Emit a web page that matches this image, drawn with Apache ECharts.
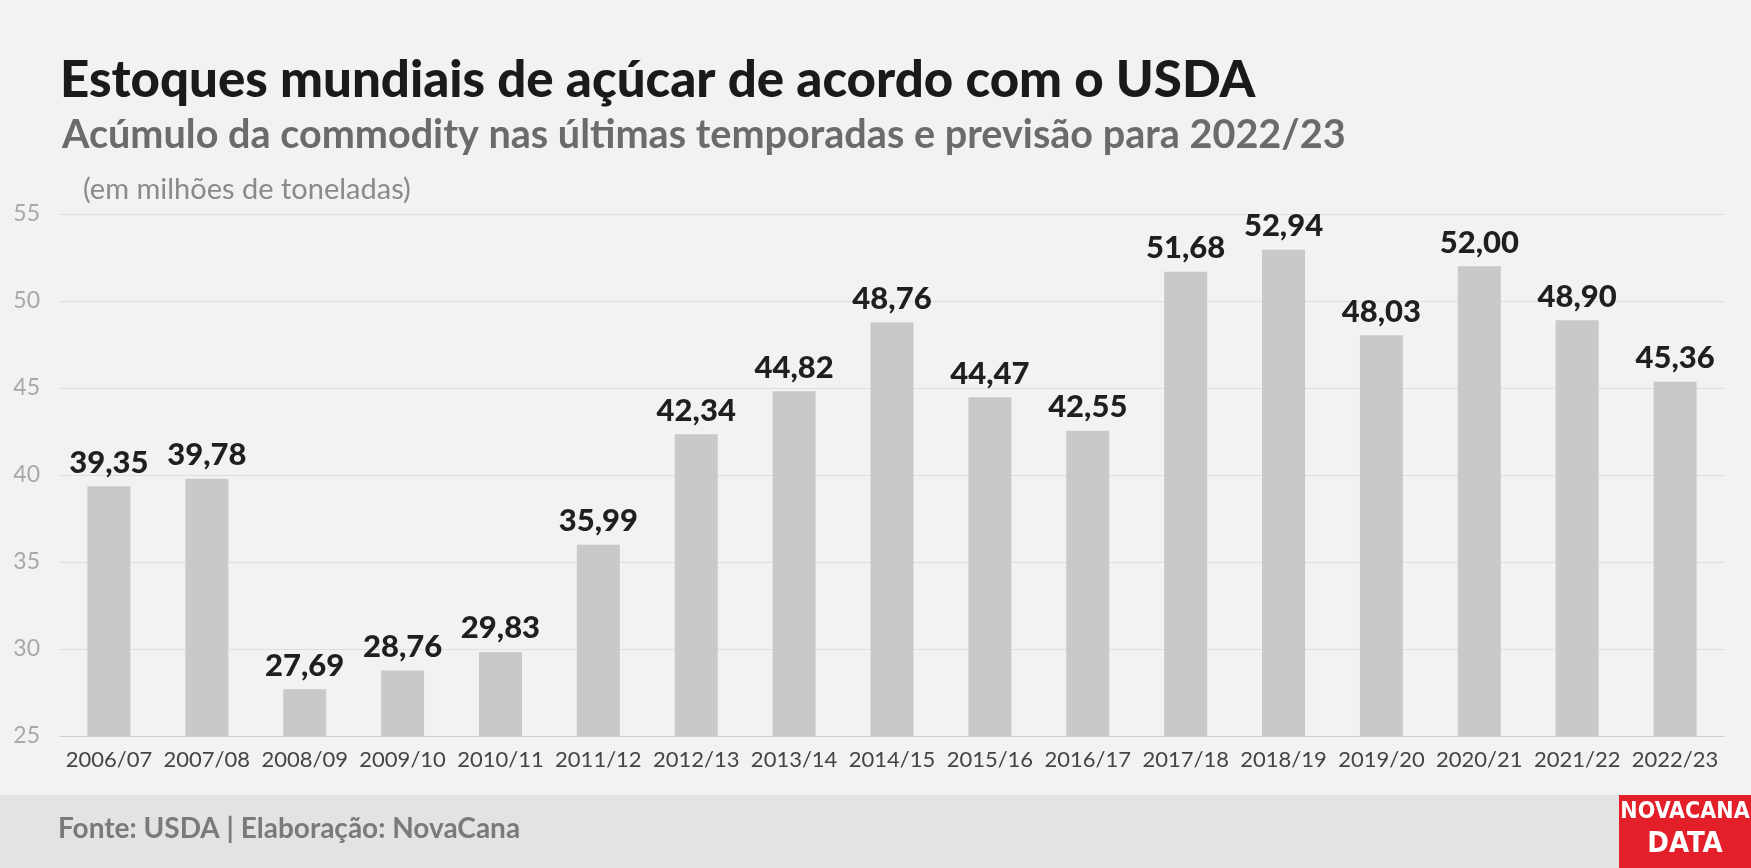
<!DOCTYPE html>
<html><head><meta charset="utf-8">
<script src="https://cdn.jsdelivr.net/npm/echarts@6/dist/echarts.min.js"></script>
<style>html,body{margin:0;padding:0;background:#f2f2f2}#main{width:1751px;height:868px}</style>
</head><body><div id="main"></div>
<script>
var categories = ['2006/07','2007/08','2008/09','2009/10','2010/11','2011/12','2012/13','2013/14','2014/15','2015/16','2016/17','2017/18','2018/19','2019/20','2020/21','2021/22','2022/23'];
var stocks = [39.35,39.78,27.69,28.76,29.83,35.99,42.34,44.82,48.76,44.47,42.55,51.68,52.94,48.03,52.00,48.90,45.36];
var yTicks = [25,30,35,40,45,50,55];

var chart = echarts.init(document.getElementById('main'));
chart.setOption({
  backgroundColor: '#f2f2f2',
  textStyle: {fontFamily: 'Lato'},
  title: [
    {text: 'Estoques mundiais de açúcar de acordo com o USDA', left: 55, top: 50,
     textStyle: {fontSize: 51, fontWeight: 900, color: '#1a1a1a', fontFamily: 'Lato'}},
    {text: 'Acúmulo da commodity nas últimas temporadas e previsão para 2022/23', left: 57, top: 110,
     textStyle: {fontSize: 39.6, fontWeight: 'bold', color: '#6b6b6b', fontFamily: 'Lato'}},
    {text: '(em milhões de toneladas)', left: 78, top: 170,
     textStyle: {fontSize: 29, fontWeight: 'normal', color: '#8a8a8a', fontFamily: 'Lato'}}
  ],
  grid: {left: 60, right: 27, top: 214, bottom: 132, containLabel: false},
  xAxis: {type: 'category', data: categories,
    axisLine: {lineStyle: {color: '#cfcfcf'}}, axisTick: {show: false},
    axisLabel: {fontSize: 22, color: '#444', margin: 13, interval: 0}},
  yAxis: {type: 'value', min: yTicks[0], max: yTicks[yTicks.length-1], interval: 5,
    axisLabel: {fontSize: 23, color: '#a8a8a8', margin: 20},
    axisLine: {show: false}, axisTick: {show: false},
    splitLine: {lineStyle: {color: '#dedede'}}},
  series: [{type: 'bar', data: stocks, barWidth: 43,
    itemStyle: {color: '#c9c9c9'},
    label: {show: true, position: 'top', fontSize: 31, fontWeight: 900, color: '#1f1f1f', distance: 8,
      formatter: function (p) { return p.value.toFixed(2).replace('.', ','); }}}],
  graphic: [
    {type: 'rect', left: 0, top: 795, shape: {width: 1751, height: 73}, style: {fill: '#e3e3e3'}, z: -1},
    {type: 'text', left: 58, top: 815, style: {text: 'Fonte: USDA | Elaboração: NovaCana', fontSize: 28, fontWeight: 'bold', fill: '#7a7a7a', fontFamily: 'Lato'}},
    {type: 'rect', left: 1619, top: 795, shape: {width: 132, height: 73}, style: {fill: '#e3202a'}},
    {type: 'text', style: {x: 1685, y: 801, text: 'NOVACANA', align: 'center', fontSize: 23, fontWeight: 'bold', fill: '#fff', fontFamily: 'DejaVu Sans Condensed'}},
    {type: 'text', style: {x: 1685, y: 830, text: 'DATA', align: 'center', fontSize: 29, fontWeight: 'bold', fill: '#fff', fontFamily: 'DejaVu Sans Condensed'}}
  ]
});
</script></body></html>
